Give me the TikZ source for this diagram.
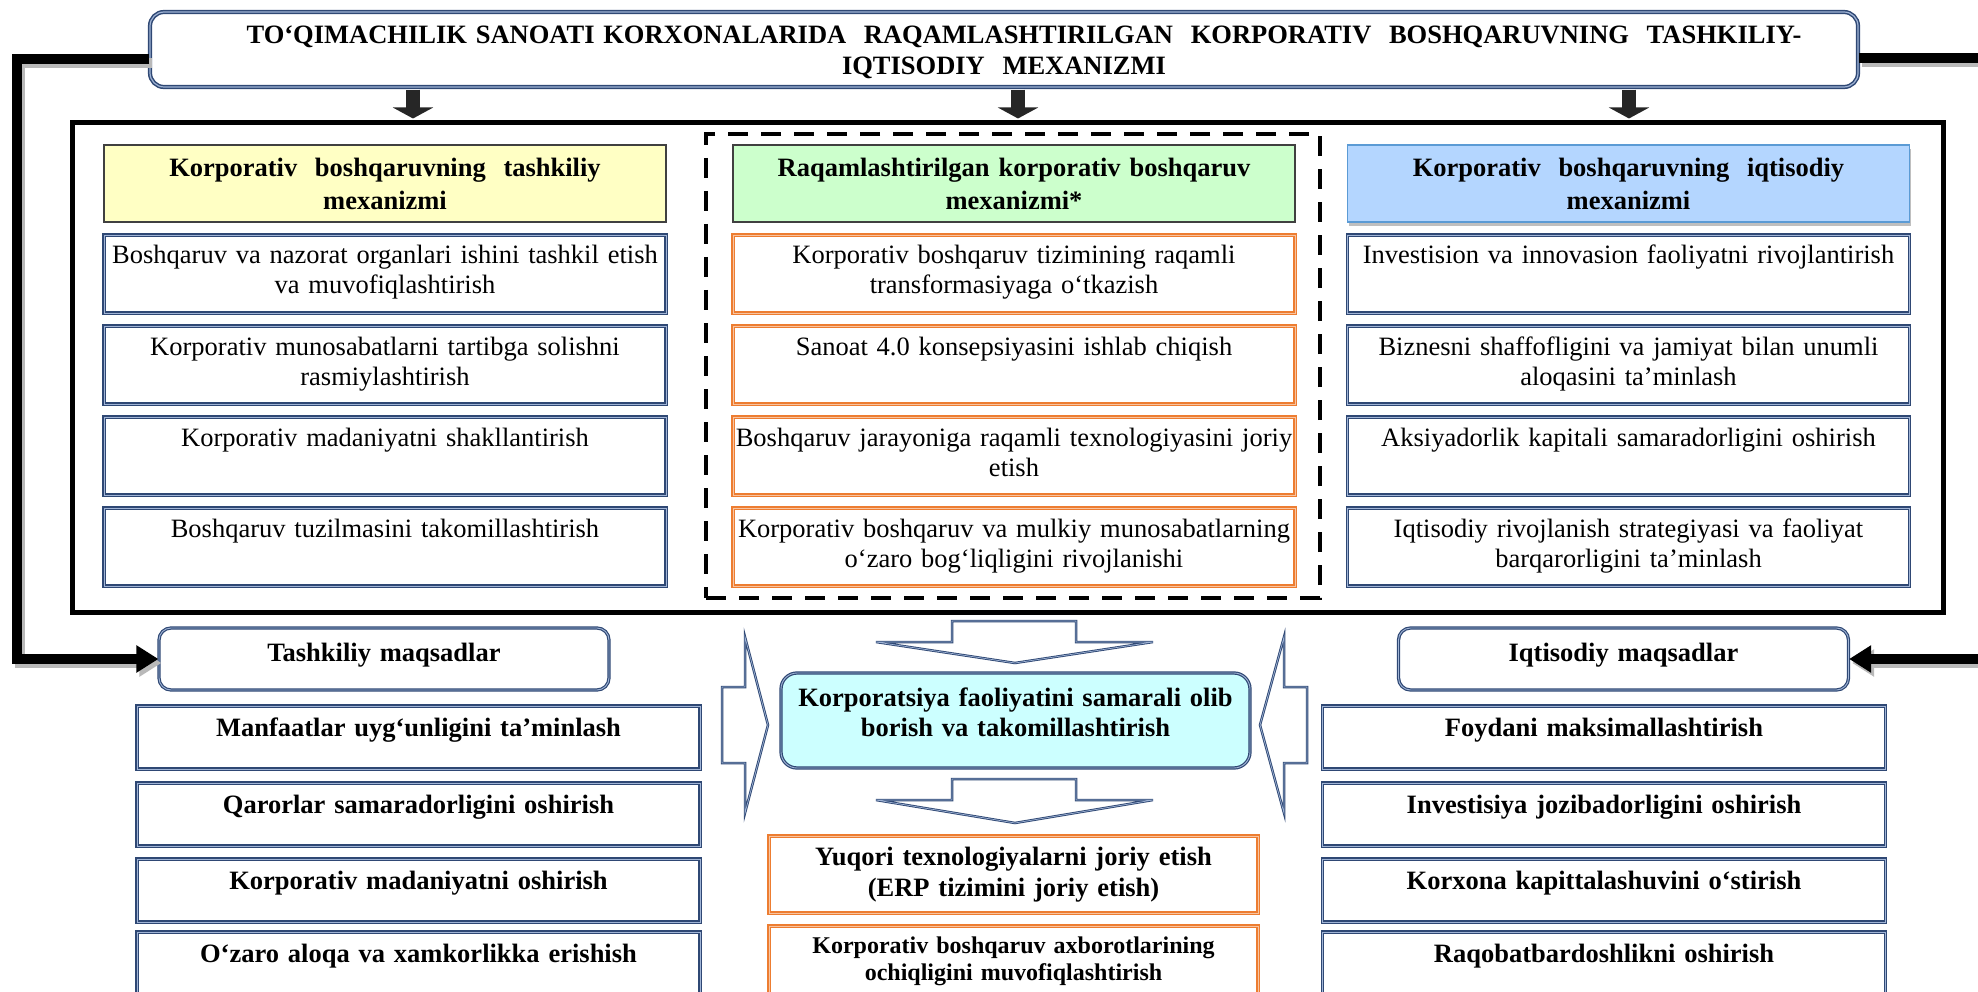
\documentclass[tikz,border=0pt]{standalone}
\usepackage{fontspec}
\setmainfont{Liberation Serif}
\usetikzlibrary{arrows.meta,calc,shadows}
\definecolor{navy}{RGB}{47,72,116}
\definecolor{navyl}{RGB}{160,180,214}
\definecolor{orng}{RGB}{237,125,49}
\definecolor{orngl}{RGB}{248,196,160}
\definecolor{hyel}{RGB}{255,255,196}
\definecolor{hgrn}{RGB}{204,255,204}
\definecolor{hblu}{RGB}{180,214,255}
\definecolor{hblub}{RGB}{91,155,213}
\definecolor{cyanf}{RGB}{204,255,255}
\begin{document}
\begin{tikzpicture}[x=1pt,y=-1pt,
 every node/.style={inner sep=0pt, align=center},
 reg/.style={font=\fontsize{26.5}{30}\selectfont},
 bld/.style={font=\bfseries\fontsize{26.5}{30}\selectfont},
 nv/.style={draw=navy, line width=1.2pt, double=navyl, double distance=0.9pt},
 og/.style={draw=orng, line width=1.2pt, double=orngl, double distance=0.9pt},
 item/.style={reg, text width=562pt, text height=29pt, text depth=49pt},
 hdr/.style={font=\bfseries\fontsize{26.5}{33}\selectfont, text width=562pt, minimum height=77pt, line width=1.3pt},
 goal/.style={nv, bld, text width=563pt, text height=30pt, text depth=33pt},
 goalhd/.style={nv, bld, rounded corners=12pt, text width=450pt, text height=33pt, text depth=29pt},
 barr/.style={draw=navy, line width=0.9pt, double=navyl, double distance=0.7pt, fill=white, line join=miter},
 fb/.style={line width=10pt, -{Triangle[length=22pt 0 0,width=26pt 0 0]}},
 fbs/.style={fb, draw=gray!55, transform canvas={shift={(3pt,-4pt)}}},
 downarr/.style={line width=14pt, draw=black!85, -{Triangle[length=11pt 0 0,width=40pt 0 0]}},
]
\useasboundingbox (0,0) rectangle (1978,992);
\clip (0,0) rectangle (1978,992);

% title
\node[bld, font=\bfseries\fontsize{26.5}{31}\selectfont, draw=navy, line width=1.5pt, double=navyl, double distance=1.2pt,
  rounded corners=14pt, text width=1708pt, text height=32pt, text depth=43pt] (title) at (1004,49.5)
 {\hspace*{40pt}TO‘QIMACHILIK SANOATI KORXONALARIDA\ \ RAQAMLASHTIRILGAN\ \ KORPORATIV\ \ BOSHQARUVNING\ \ TASHKILIY-\\IQTISODIY\ \ MEXANIZMI};

% big frame and dashed frame
\node[draw=black, line width=5pt, minimum width=1871pt, minimum height=489pt] (mech) at (1007.5,367.5) {};
\node[draw=black, line width=4.5pt, dash pattern=on 20pt off 13pt, minimum width=614pt, minimum height=464pt] (dig) at (1013,366) {};

% headers
\node[hdr, draw=black!75, fill=hyel] (hL) at (385,183.5) {Korporativ\ \ boshqaruvning\ \ tashkiliy\\mexanizmi};
\node[hdr, draw=black!75, fill=hgrn] (hM) at (1014,183.5) {Raqamlashtirilgan korporativ boshqaruv\\mexanizmi*};
\node[hdr, draw=hblub, fill=hblu, drop shadow={shadow xshift=1.5pt, shadow yshift=-4pt, fill=gray!50, opacity=1}] (hR) at (1628.5,183.5) {Korporativ\ \ boshqaruvning\ \ iqtisodiy\\mexanizmi};

% left items
\node[item, nv] (L1) at (385,274) {Boshqaruv va nazorat organlari ishini tashkil etish\\va muvofiqlashtirish};
\node[item, nv] (L2) at (385,365) {Korporativ munosabatlarni tartibga solishni\\rasmiylashtirish};
\node[item, nv] (L3) at (385,456) {Korporativ madaniyatni shakllantirish};
\node[item, nv] (L4) at (385,547) {Boshqaruv tuzilmasini takomillashtirish};
% middle items
\node[item, og] (M1) at (1014,274) {Korporativ boshqaruv tizimining raqamli\\transformasiyaga o‘tkazish};
\node[item, og] (M2) at (1014,365) {Sanoat 4.0 konsepsiyasini ishlab chiqish};
\node[item, og] (M3) at (1014,456) {Boshqaruv jarayoniga raqamli texnologiyasini joriy\\etish};
\node[item, og] (M4) at (1014,547) {Korporativ boshqaruv va mulkiy munosabatlarning\\o‘zaro bog‘liqligini rivojlanishi};
% right items
\node[item, nv] (R1) at (1628.5,274) {Investision va innovasion faoliyatni rivojlantirish};
\node[item, nv] (R2) at (1628.5,365) {Biznesni shaffofligini va jamiyat bilan unumli\\aloqasini ta’minlash};
\node[item, nv] (R3) at (1628.5,456) {Aksiyadorlik kapitali samaradorligini oshirish};
\node[item, nv] (R4) at (1628.5,547) {Iqtisodiy rivojlanish strategiyasi va faoliyat\\barqarorligini ta’minlash};

% arrows title -> frame
\coordinate (a1) at (413,0);
\coordinate (a2) at (1018,0);
\coordinate (a3) at (1629,0);
\draw[downarr] ([yshift=-2pt]title.south -| a1) -- ([yshift=2pt]mech.north -| a1);
\draw[downarr] ([yshift=-2pt]title.south -| a2) -- ([yshift=2pt]mech.north -| a2);
\draw[downarr] ([yshift=-2pt]title.south -| a3) -- ([yshift=2pt]mech.north -| a3);

% goal headers
\node[goalhd] (tm) at (384,659) {Tashkiliy maqsadlar};
\node[goalhd] (im) at (1623.5,659) {Iqtisodiy maqsadlar};

% left goals
\node[goal] (G1) at (418.5,737.5) {Manfaatlar uyg‘unligini ta’minlash};
\node[goal] (G2) at (418.5,814.5) {Qarorlar samaradorligini oshirish};
\node[goal] (G3) at (418.5,890.5) {Korporativ madaniyatni oshirish};
\node[goal] (G4) at (418.5,963.5) {O‘zaro aloqa va xamkorlikka erishish};
% right goals
\node[goal] (E1) at (1604,737.5) {Foydani maksimallashtirish};
\node[goal] (E2) at (1604,814.5) {Investisiya jozibadorligini oshirish};
\node[goal] (E3) at (1604,890.5) {Korxona kapittalashuvini o‘stirish};
\node[goal] (E4) at (1604,963.5) {Raqobatbardoshlikni oshirish};

% centre
\node[nv, bld, fill=cyanf, rounded corners=16pt, text width=469pt, text height=33pt, text depth=62pt] (C) at (1015.5,720.5)
 {Korporatsiya faoliyatini samarali olib\\borish va takomillashtirish};
\node[og, bld, font=\bfseries\fontsize{26.5}{31}\selectfont, text width=489pt, text height=29pt, text depth=48pt] (O1) at (1013.5,874.5)
 {Yuqori texnologiyalarni joriy etish\\(ERP tizimini joriy etish)};
\node[og, font=\bfseries\fontsize{24}{27}\selectfont, text width=489pt, text height=27pt, text depth=50pt] (O2) at (1013.5,964.5)
 {Korporativ boshqaruv axborotlarining\\ochiqligini muvofiqlashtirish};

% block arrows
\draw[barr] (952,621) -- (1076,621) -- (1076,642) -- (1153,642) -- (1015,663) -- (876,642) -- (952,642) -- cycle;
\draw[barr] (952,779) -- (1076,779) -- (1076,800) -- (1153,800) -- (1015,823) -- (876,800) -- (952,800) -- cycle;
\draw[barr] (722,687) -- (745,687) -- (745,637) -- (768,725) -- (745,813) -- (745,763) -- (722,763) -- cycle;
\draw[barr] (1307,687) -- (1284,687) -- (1284,637) -- (1260,725) -- (1284,813) -- (1284,763) -- (1307,763) -- cycle;

% feedback lines
\coordinate (lc) at (17,0);
\coordinate (rc) at (1998,0);
\draw[fbs] ([yshift=-9.5pt]title.west) -| (lc |- tm.west) -- (tm.west);
\draw[fb] ([yshift=-9.5pt]title.west) -| (lc |- tm.west) -- (tm.west);
\draw[fbs] ([yshift=-9pt]title.east) -| (rc |- im.east) -- (im.east);
\draw[fb] ([yshift=-9pt]title.east) -| (rc |- im.east) -- (im.east);
\end{tikzpicture}
\end{document}
